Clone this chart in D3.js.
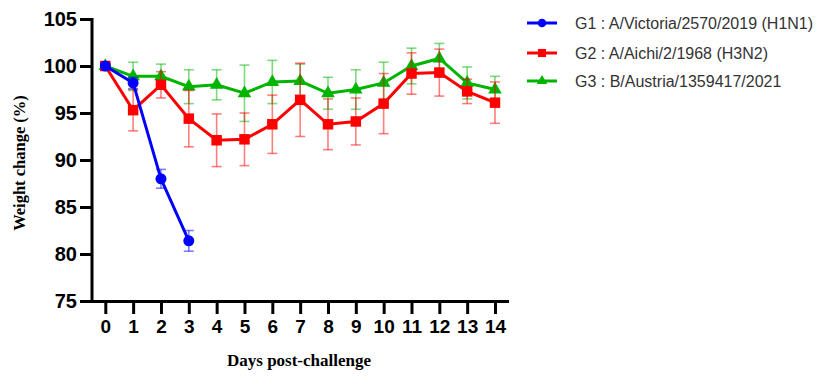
<!DOCTYPE html>
<html><head><meta charset="utf-8">
<script src="https://cdn.jsdelivr.net/npm/d3@7"></script>
<style>body{margin:0;background:#fff}svg{display:block}</style>
</head><body>
<svg id="c" width="831" height="381"></svg>
<script>
const days = [0,1,2,3,4,5,6,7,8,9,10,11,12,13,14];
const yTicks = [75,80,85,90,95,100,105];
const seriesNames = ["G1 : A/Victoria/2570/2019 (H1N1)","G2 : A/Aichi/2/1968 (H3N2)","G3 : B/Austria/1359417/2021"];
const g1Mean = [100, 98.2, 88.0, 81.4];
const g1Err  = [0.2, 0.6, 1.0, 1.1];
const g2Mean = [100, 95.3, 98.0, 94.4, 92.1, 92.2, 93.8, 96.4, 93.8, 94.1, 96.0, 99.2, 99.3, 97.3, 96.1];
const g2Err  = [0.2, 2.2, 1.4, 3.0, 2.8, 2.8, 3.1, 3.9, 2.7, 2.5, 3.2, 2.2, 2.5, 1.3, 2.2];
const g3Mean = [100, 98.9, 98.9, 97.8, 98.0, 97.1, 98.3, 98.4, 97.1, 97.5, 98.2, 100.0, 100.8, 98.2, 97.5];
const g3Err  = [0.2, 1.5, 1.3, 1.8, 1.6, 3.0, 2.3, 1.8, 1.7, 2.1, 2.2, 1.9, 1.6, 1.7, 1.4];

const svg = d3.select("#c");
const x = d3.scaleLinear().domain([0,14]).range([105.3,495]);
const y = d3.scaleLinear().domain([75,105]).range([301,19]);

const series = [
  {name:seriesNames[0], mean:g1Mean, err:g1Err, color:"#0000ff", shape:d3.symbolCircle, size:95},
  {name:seriesNames[1], mean:g2Mean, err:g2Err, color:"#ff0000", shape:d3.symbolSquare, size:110},
  {name:seriesNames[2], mean:g3Mean, err:g3Err, color:"#00b400", shape:d3.symbolTriangle, size:80}
];

// axes
const yAxis = d3.axisLeft(y).tickValues(yTicks).tickSize(12).tickSizeOuter(0).tickPadding(3);
const gy = svg.append("g").attr("transform","translate(92,0)").call(yAxis);
gy.select(".domain").attr("stroke","#000").attr("stroke-width",3).attr("d","M0,"+(y(105)-1)+"V"+(y(75)+1.5));
gy.selectAll(".tick line").attr("stroke","#000").attr("stroke-width",3);
gy.selectAll(".tick text").attr("font-family","Arial, Liberation Sans, sans-serif").attr("font-weight","bold").attr("font-size",20).attr("fill","#000");

const xAxis = d3.axisBottom(x).tickValues(days).tickSize(11).tickSizeOuter(0).tickPadding(6);
const gx = svg.append("g").attr("transform","translate(0,303)").call(xAxis);
gx.select(".domain").remove();
svg.append("line").attr("x1",90.5).attr("x2",509).attr("y1",301.5).attr("y2",301.5).attr("stroke","#000").attr("stroke-width",3);
gx.selectAll(".tick line").attr("stroke","#000").attr("stroke-width",3);
gx.selectAll(".tick text").attr("font-family","Arial, Liberation Sans, sans-serif").attr("font-weight","bold").attr("font-size",19).attr("fill","#000");

svg.append("text").attr("x",299).attr("y",366).attr("text-anchor","middle")
  .attr("font-family","Liberation Serif, Times New Roman, serif").attr("font-weight","bold").attr("font-size",17)
  .text("Days post-challenge");
svg.append("text").attr("transform","translate(25,163) rotate(-90)").attr("text-anchor","middle")
  .attr("font-family","Liberation Serif, Times New Roman, serif").attr("font-weight","bold").attr("font-size",16.5)
  .text("Weight change (%)");

// draw series (green first, red, blue on top)
const order = [2,1,0];
order.forEach(i=>{
  const s = series[i];
  const pts = s.mean.map((m,k)=>({d:days[k], m, e:s.err[k]}));
  const g = svg.append("g");
  const eb = g.append("g").attr("stroke",s.color).attr("stroke-opacity",0.5).attr("stroke-width",1.6).attr("fill","none");
  pts.forEach(p=>{
    eb.append("line").attr("x1",x(p.d)).attr("x2",x(p.d)).attr("y1",y(p.m+p.e)).attr("y2",y(p.m-p.e));
    eb.append("line").attr("x1",x(p.d)-5).attr("x2",x(p.d)+5).attr("y1",y(p.m+p.e)).attr("y2",y(p.m+p.e));
    eb.append("line").attr("x1",x(p.d)-5).attr("x2",x(p.d)+5).attr("y1",y(p.m-p.e)).attr("y2",y(p.m-p.e));
  });
  g.append("path").datum(pts).attr("fill","none").attr("stroke",s.color).attr("stroke-width",3)
    .attr("d",d3.line().x(p=>x(p.d)).y(p=>y(p.m)));
  g.selectAll("path.sym").data(pts).join("path").attr("class","sym")
    .attr("transform",p=>`translate(${x(p.d)},${y(p.m)})`)
    .attr("d",d3.symbol().type(s.shape).size(s.size)).attr("fill",s.color);
});

// legend
const lg = svg.append("g");
series.forEach((s,i)=>{
  const ly = [23,53,81][i];
  lg.append("line").attr("x1",527).attr("x2",557).attr("y1",ly).attr("y2",ly).attr("stroke",s.color).attr("stroke-width",3);
  lg.append("path").attr("transform",`translate(542,${ly})`).attr("d",d3.symbol().type(s.shape).size(s.size*0.6)).attr("fill",s.color);
  lg.append("text").attr("x",575).attr("y",ly+5.5).attr("font-family","Arial, Liberation Sans, sans-serif")
    .attr("font-size",16).attr("fill","#333").text(s.name);
});
</script>
</body></html>
